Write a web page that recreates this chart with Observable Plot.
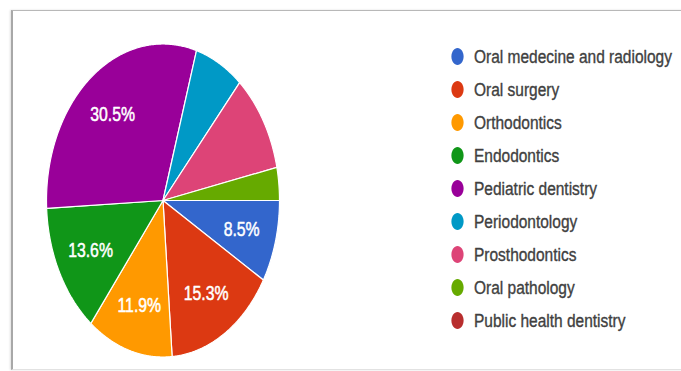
<!DOCTYPE html>
<html><head><meta charset="utf-8">
<script src="https://cdn.jsdelivr.net/npm/d3@7"></script>
<script src="https://cdn.jsdelivr.net/npm/@observablehq/plot@0.6"></script>
<style>
html,body{margin:0;padding:0;background:#fff;}
#wrap{position:relative;width:681px;height:371px;overflow:hidden;background:#fff;}
#wrap svg{position:absolute;left:0;top:0;}
#frame{position:absolute;left:11px;top:10px;width:720px;height:358px;border-left:2px solid #a8a8a8;border-top:1px solid #b8b8b8;border-bottom:1px solid #e2e2e2;box-shadow:-1px 0 2px rgba(0,0,0,0.12);z-index:3;pointer-events:none;}
</style></head><body>
<div id="wrap"><div id="frame"></div></div>
<script>
const categories = ["Oral medecine and radiology","Oral surgery","Orthodontics","Endodontics","Pediatric dentistry","Periodontology","Prosthodontics","Oral pathology","Public health dentistry"];
const percents = [8.5, 15.3, 11.9, 13.6, 30.5, 6.8, 10.2, 3.4, 0];
const sliceLabels = ["8.5%","15.3%","11.9%","13.6%","30.5%","","","",""];
const colors = ["#3366cc","#dc3912","#ff9900","#109618","#990099","#0099c6","#dd4477","#66aa00","#b82e2e"];

const FONT = "'Liberation Sans', Arial, sans-serif";
const data = categories.map((c, i) => ({cat: c, value: percents[i], label: sliceLabels[i]}));

// angles measured clockwise from 3 o'clock
const arcs = d3.pie().sort(null).value(d => d.value).startAngle(0).endAngle(2 * Math.PI)(data);
const pt = (a, r) => ({x: r * Math.cos(a), y: -r * Math.sin(a)});

const polys = [];
arcs.filter(a => a.data.value > 0).forEach(a => {
  const n = Math.max(2, Math.ceil((a.endAngle - a.startAngle) / 0.008));
  polys.push({cat: a.data.cat, ...pt(0, 0)});
  for (let k = 0; k <= n; k++) {
    const ang = a.startAngle + (a.endAngle - a.startAngle) * k / n;
    polys.push({cat: a.data.cat, ...pt(ang, 1)});
  }
  polys.push({cat: a.data.cat, ...pt(0, 0)});
});

const labelPts = arcs.filter(a => a.data.label).map(a => ({
  text: a.data.label, ...pt((a.startAngle + a.endAngle) / 2, 0.7)
}));

const colorScale = {domain: categories, range: colors};

const pie = Plot.plot({
  width: 681, height: 371, margin: 0,
  style: {background: "transparent"},
  x: {domain: [-1, 1], range: [46, 279], axis: null},
  y: {domain: [-1, 1], range: [356.5, 43.5], axis: null},
  color: colorScale,
  marks: [
    Plot.line(polys, {x: "x", y: "y", z: "cat", fill: "cat", stroke: "white", strokeWidth: 1.2, curve: "linear", strokeLinejoin: "miter"}),
    Plot.text(labelPts, {x: "x", y: "y", text: "text", fill: "white", stroke: "white", strokeWidth: 0.4, fontSize: 15.8, fontFamily: FONT})
  ]
});

const ellipse = {
  draw(ctx, size) {
    const r = Math.sqrt(size / Math.PI), rx = r * 0.87, ry = r * 1.2, k = 0.5523;
    ctx.moveTo(rx, 0);
    ctx.bezierCurveTo(rx, ry * k, rx * k, ry, 0, ry);
    ctx.bezierCurveTo(-rx * k, ry, -rx, ry * k, -rx, 0);
    ctx.bezierCurveTo(-rx, -ry * k, -rx * k, -ry, 0, -ry);
    ctx.bezierCurveTo(rx * k, -ry, rx, -ry * k, rx, 0);
    ctx.closePath();
  }
};

const legend = Plot.plot({
  width: 681, height: 371, margin: 0,
  style: {background: "transparent"},
  x: {domain: [0, 1], range: [457, 473.5], axis: null},
  y: {type: "point", domain: categories, range: [53, 323], padding: 0, axis: null},
  color: colorScale,
  marks: [
    Plot.dot(categories, {x: () => 0, y: d => d, fill: d => d, r: 7, symbol: ellipse}),
    Plot.text(categories, {x: () => 1, y: d => d, text: d => d, textAnchor: "start", fill: "#404040", stroke: "#404040", strokeWidth: 0.3, fontSize: 15.5, fontFamily: FONT})
  ]
});

// stretch texts vertically, as in the reference picture
function stretch(svg, k) {
  svg.querySelectorAll("text").forEach(t => {
    const tr = t.getAttribute("transform");
    if (tr) {
      t.setAttribute("transform", tr + ` scale(1,${k})`);
    } else {
      const x = +t.getAttribute("x") || 0, y = +t.getAttribute("y") || 0;
      t.setAttribute("transform", `translate(${x},${y}) scale(1,${k}) translate(${-x},${-y})`);
    }
  });
}
stretch(pie, 1.3);
stretch(legend, 1.22);

const wrap = document.getElementById("wrap");
wrap.insertBefore(legend, wrap.firstChild);
wrap.insertBefore(pie, wrap.firstChild);
</script>
</body></html>
